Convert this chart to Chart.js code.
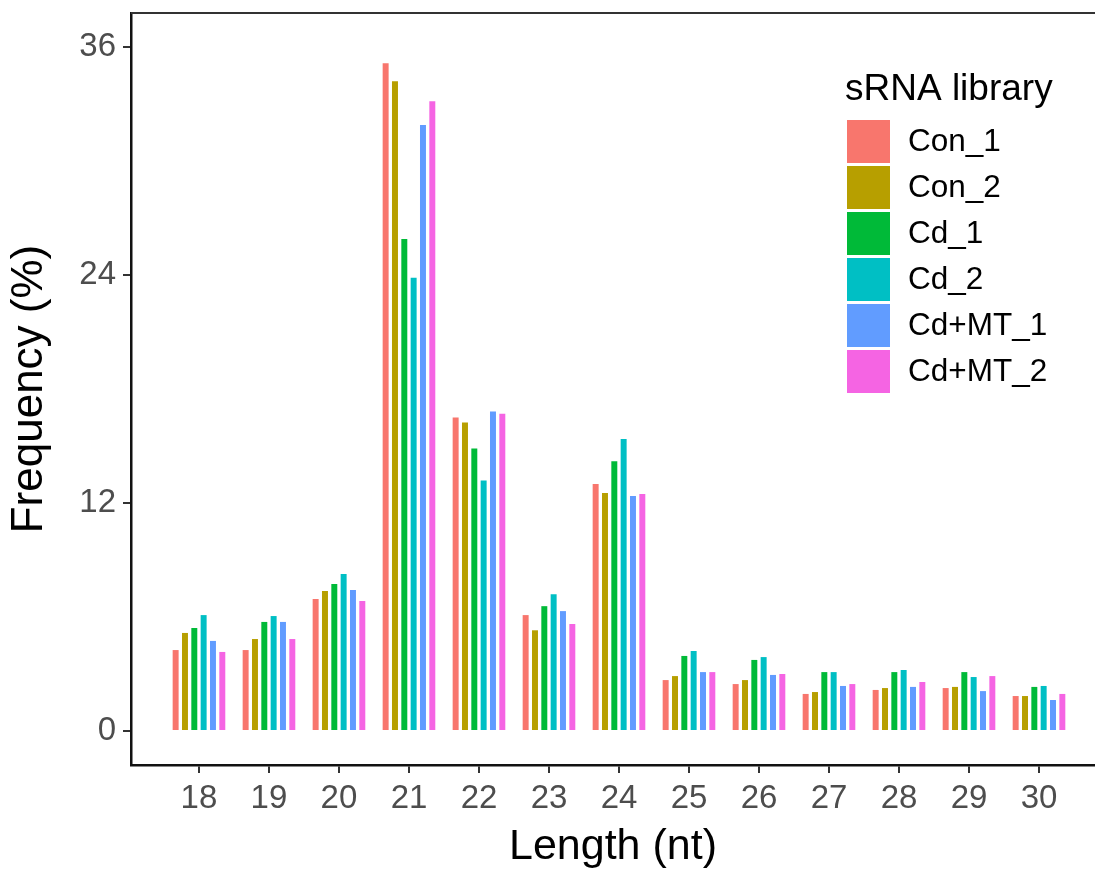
<!DOCTYPE html>
<html>
<head>
<meta charset="utf-8">
<script src="https://cdn.jsdelivr.net/npm/chart.js@4.4.1/dist/chart.umd.min.js"></script>
<style>
  body { margin: 0; background: #fff; }
  canvas { display: block; }
</style>
</head>
<body>
<canvas id="srna_chart" width="1095" height="875"></canvas>
<script>
const lengths = [18, 19, 20, 21, 22, 23, 24, 25, 26, 27, 28, 29, 30];
const libraries = ["Con_1", "Con_2", "Cd_1", "Cd_2", "Cd+MT_1", "Cd+MT_2"];

const con1 = [4.26, 4.26, 6.95, 35.15, 16.5, 6.1, 13.0, 2.68, 2.47, 1.95, 2.16, 2.26, 1.84];
const con2 = [5.16, 4.84, 7.37, 34.2, 16.24, 5.3, 12.53, 2.89, 2.68, 2.05, 2.26, 2.32, 1.84];
const cd1 = [5.42, 5.74, 7.74, 25.9, 14.87, 6.57, 14.2, 3.95, 3.74, 3.1, 3.1, 3.1, 2.32];
const cd2 = [6.1, 6.05, 8.26, 23.86, 13.18, 7.2, 15.37, 4.21, 3.89, 3.1, 3.21, 2.84, 2.37];
const cdmt1 = [4.74, 5.74, 7.42, 31.9, 16.82, 6.31, 12.37, 3.1, 2.95, 2.37, 2.32, 2.1, 1.63];
const cdmt2 = [4.16, 4.84, 6.84, 33.15, 16.7, 5.63, 12.47, 3.1, 3.0, 2.47, 2.58, 2.89, 1.95];

const yTicks = [0, 12, 24, 36];
const colors = ["#F8766D", "#B79F00", "#00BA38", "#00BFC4", "#619CFF", "#F564E3"];

const FONT = "'Liberation Sans', Arial, Helvetica, sans-serif";

const series = [con1, con2, cd1, cd2, cdmt1, cdmt2];

const datasets = series.map((vals, i) => ({
  label: libraries[i],
  backgroundColor: colors[i],
  borderWidth: 0,
  categoryPercentage: 0.8,
  barPercentage: 0.64,
  data: vals.map((v, j) => ({ x: lengths[j], y: v })),
}));

// ggplot style legend, drawn inside the panel
const legendInside = {
  id: "legendInside",
  afterDraw(chart) {
    const ctx = chart.ctx;
    ctx.save();
    ctx.fillStyle = "#000";
    ctx.font = "37px " + FONT;
    ctx.textAlign = "left";
    ctx.textBaseline = "alphabetic";
    ctx.fillText("sRNA library", 845, 100);
    ctx.font = "31.5px " + FONT;
    ctx.textBaseline = "middle";
    libraries.forEach((name, i) => {
      const y = 120 + i * 46;
      ctx.fillStyle = colors[i];
      ctx.fillRect(847, y, 43, 43);
      ctx.fillStyle = "#000";
      ctx.fillText(name, 908, y + 22);
    });
    ctx.restore();
  },
};

// top line of the panel frame
const panelTop = {
  id: "panelTop",
  afterDraw(chart) {
    const a = chart.chartArea;
    const ctx = chart.ctx;
    ctx.save();
    ctx.strokeStyle = "#333";
    ctx.lineWidth = 2;
    ctx.beginPath();
    ctx.moveTo(a.left, a.top);
    ctx.lineTo(a.right, a.top);
    ctx.stroke();
    ctx.restore();
  },
};

new Chart(document.getElementById("srna_chart"), {
  type: "bar",
  data: { datasets: datasets },
  options: {
    responsive: false,
    animation: false,
    layout: { padding: { top: 13, left: 0, right: 0, bottom: 0 } },
    plugins: {
      legend: { display: false },
      tooltip: { enabled: false },
    },
    scales: {
      x: {
        type: "linear",
        offset: false,
        min: 17.029,
        max: 30.8,
        afterBuildTicks: (scale) => {
          scale.ticks = lengths.map((v) => ({ value: v }));
        },
        afterFit: (scale) => {
          scale.height = 110;
          scale.paddingLeft = 0;
          scale.paddingRight = 0;
        },
        ticks: {
          autoSkip: false,
          maxRotation: 0,
          padding: 6,
          color: "#4D4D4D",
          font: { family: FONT, size: 33 },
          callback: (v) => String(v),
        },
        grid: {
          offset: false,
          drawOnChartArea: false,
          drawTicks: true,
          tickLength: 8,
          color: "#333",
          lineWidth: 2,
        },
        border: { display: true, color: "#111", width: 2.5 },
        title: {
          display: true,
          text: "Length (nt)",
          color: "#000",
          font: { family: FONT, size: 43 },
          padding: { top: 0, bottom: 2 },
        },
      },
      y: {
        type: "linear",
        min: -1.79,
        max: 37.79,
        afterBuildTicks: (scale) => {
          scale.ticks = yTicks.map((v) => ({ value: v }));
        },
        afterFit: (scale) => {
          scale.width = 131;
          scale.paddingTop = 0;
          scale.paddingBottom = 0;
        },
        ticks: {
          padding: 7,
          color: "#4D4D4D",
          font: { family: FONT, size: 33 },
          callback: (v) => String(v),
        },
        grid: {
          drawOnChartArea: false,
          drawTicks: true,
          tickLength: 8,
          color: "#333",
          lineWidth: 2,
        },
        border: { display: true, color: "#111", width: 2.5 },
        title: {
          display: true,
          text: "Frequency (%)",
          color: "#000",
          font: { family: FONT, size: 44 },
          padding: { top: 3, bottom: 0 },
        },
      },
    },
  },
  plugins: [legendInside, panelTop],
});
</script>
</body>
</html>
